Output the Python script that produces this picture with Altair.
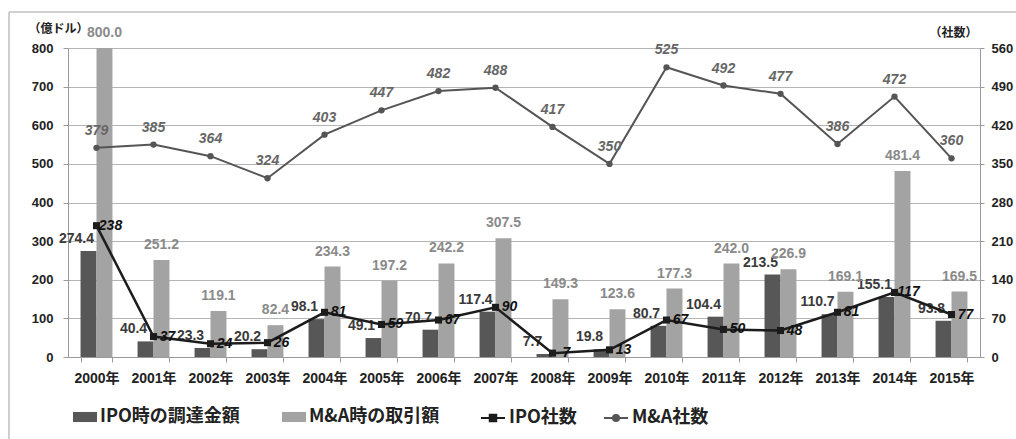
import altair as alt
import pandas as pd

# ---- data -------------------------------------------------------------
years = [f"{y}年" for y in range(2000, 2016)]
ipo_amount = [274.4, 40.4, 23.3, 20.2, 98.1, 49.1, 70.7, 117.4,
              7.7, 19.8, 80.7, 104.4, 213.5, 110.7, 155.1, 93.8]
ma_amount = [800.0, 251.2, 119.1, 82.4, 234.3, 197.2, 242.2, 307.5,
             149.3, 123.6, 177.3, 242.0, 226.9, 169.1, 481.4, 169.5]
ipo_count = [238, 37, 24, 26, 81, 59, 67, 90, 7, 13, 67, 50, 48, 81, 117, 77]
ma_count = [379, 385, 364, 324, 403, 447, 482, 488,
            417, 350, 525, 492, 477, 386, 472, 360]

bar_series = ["IPO時の調達金額", "M&A時の取引額"]
bar_colors = ["#575757", "#a3a3a3"]
line_series = ["IPO社数", "M&A社数"]
line_colors = ["#1c1c1c", "#555555"]

bars_df = pd.DataFrame({
    "year": years * 2,
    "series": [bar_series[0]] * len(years) + [bar_series[1]] * len(years),
    "amount": ipo_amount + ma_amount,
})
counts_df = pd.DataFrame({"year": years, "ipo_n": ipo_count, "ma_n": ma_count})
line_keys = pd.DataFrame({"count_series": line_series})

# ---- styling ----------------------------------------------------------
NUM_FONT = "Liberation Sans, Noto Sans CJK JP"
JP_FONT = "Noto Sans CJK JP"
AXIS_GREY = "#9a9a9a"

x_enc = alt.X(
    "year:N", sort=years,
    scale=alt.Scale(paddingInner=0.44, paddingOuter=0.22),
    axis=alt.Axis(title=None, labelAngle=0, tickBand="extent", tickSize=5,
                  tickColor=AXIS_GREY, domainColor=AXIS_GREY,
                  labelFont=NUM_FONT, labelFontSize=14, labelFontWeight="bold",
                  labelColor="#222222", labelPadding=9, grid=False),
)
x_off = alt.XOffset("series:N",
                    scale=alt.Scale(domain=bar_series, paddingInner=0, paddingOuter=0))

left_axis = alt.Axis(
    values=list(range(0, 801, 100)), tickCount=9, labelOverlap=False,
    title="（億ドル）", titleAngle=0,
    titleX=-10, titleY=-20, titleAlign="center", titleBaseline="middle",
    titleFont=JP_FONT, titleFontSize=12, titleFontWeight="bold", titleColor="#222222",
    labelFont=NUM_FONT, labelFontSize=13, labelFontWeight="bold", labelColor="#222222",
    labelPadding=10, tickSize=5, tickColor=AXIS_GREY, domainColor=AXIS_GREY,
    grid=True, gridColor="#b5b5b5", gridWidth=1,
)
right_axis = alt.Axis(
    values=list(range(0, 561, 70)), tickCount=9, labelOverlap=False,
    title="（社数）", titleAngle=0,
    titleX=-27, titleY=-16, titleAlign="center", titleBaseline="middle",
    titleFont=JP_FONT, titleFontSize=12, titleFontWeight="bold", titleColor="#222222",
    labelFont=NUM_FONT, labelFontSize=13, labelFontWeight="bold", labelColor="#222222",
    labelPadding=7, tickSize=4, tickColor=AXIS_GREY, domainColor=AXIS_GREY,
    grid=False,
)

legend_common = dict(
    orient="none", direction="horizontal", title=None, columns=2,
    labelFont=JP_FONT, labelFontSize=18, labelFontWeight="bold",
    labelColor="#222222", symbolSize=576, labelOffset=3, legendY=357,
)
bar_legend = alt.Legend(legendX=5, columnPadding=42,
                        symbolType="M-1,-0.42H1V0.42H-1Z", symbolStrokeWidth=0,
                        symbolOpacity=1, **legend_common)
line_legend = alt.Legend(legendX=412, columnPadding=23,
                         symbolStrokeWidth=2, symbolOpacity=1, **legend_common)
line_symbols = [
    "M-1,0H1M-0.27,-0.27H0.27V0.27H-0.27Z",
    "M-1,0H1M-0.25,0A0.25,0.25,0,1,1,0.25,0A0.25,0.25,0,1,1,-0.25,0Z",
]

# ---- left axis: amounts (bars) -----------------------------------------
y_amt = alt.Y("amount:Q", scale=alt.Scale(domain=[0, 800]), axis=left_axis)

bars = alt.Chart(bars_df).mark_bar().encode(
    x=x_enc, xOffset=x_off, y=y_amt,
    color=alt.Color("series:N", scale=alt.Scale(domain=bar_series, range=bar_colors),
                    legend=bar_legend),
)
ipo_amt_text = alt.Chart(bars_df).transform_filter(
    alt.datum.series == bar_series[0]
).mark_text(dx=-12, dy=-12, baseline="middle", align="center",
            font=NUM_FONT, fontSize=14, fontWeight="bold", color="#3a3a3a").encode(
    x=x_enc, xOffset=x_off, y=y_amt,
    text=alt.Text("amount:Q", format=".1f"),
)
ma_amt_text = alt.Chart(bars_df).transform_filter(
    alt.datum.series == bar_series[1]
).mark_text(dy=-15, baseline="middle", align="center",
            font=NUM_FONT, fontSize=14, fontWeight="bold", color="#8a8a8a").encode(
    x=x_enc, xOffset=x_off, y=y_amt,
    text=alt.Text("amount:Q", format=".1f"),
)
left = alt.layer(bars, ipo_amt_text, ma_amt_text)

# ---- right axis: company counts (lines) --------------------------------
y_scale_n = alt.Scale(domain=[0, 560])
y_ma = alt.Y("ma_n:Q", scale=y_scale_n, axis=right_axis)
y_ipo = alt.Y("ipo_n:Q", scale=y_scale_n, axis=right_axis)
base_n = alt.Chart(counts_df)

ma_line = base_n.mark_line(color=line_colors[1], strokeWidth=2).encode(x=x_enc, y=y_ma)
ma_pts = base_n.mark_point(shape="circle", filled=True, size=40, opacity=1,
                           color=line_colors[1]).encode(x=x_enc, y=y_ma)
ma_text = base_n.mark_text(dy=-17, baseline="middle", align="center",
                           font=NUM_FONT, fontSize=14, fontWeight="bold",
                           fontStyle="italic", color="#666666").encode(
    x=x_enc, y=y_ma, text="ma_n:Q")

ipo_line = base_n.mark_line(color=line_colors[0], strokeWidth=2.5).encode(x=x_enc, y=y_ipo)
ipo_pts = base_n.mark_point(shape="square", filled=True, size=50, opacity=1,
                            color=line_colors[0]).encode(x=x_enc, y=y_ipo)
ipo_text = base_n.mark_text(dx=14, dy=0, baseline="middle", align="center",
                            font=NUM_FONT, fontSize=14, fontWeight="bold",
                            fontStyle="italic", color="#111111").encode(
    x=x_enc, y=y_ipo, text="ipo_n:Q")

right = alt.layer(ma_line, ma_pts, ma_text, ipo_line, ipo_pts, ipo_text)

# invisible layer that only supplies the legend for the two count lines
line_key = alt.Chart(line_keys).mark_point(opacity=0).encode(
    x=alt.value(0), y=alt.value(0),
    shape=alt.Shape("count_series:N",
                    scale=alt.Scale(domain=line_series, range=line_symbols),
                    legend=line_legend),
    fill=alt.Fill("count_series:N",
                  scale=alt.Scale(domain=line_series, range=line_colors),
                  legend=line_legend),
    stroke=alt.Stroke("count_series:N",
                      scale=alt.Scale(domain=line_series, range=line_colors),
                      legend=line_legend),
)

# ---- outer frame (top and left edges) -----------------------------------
frame_top = alt.Chart().mark_rule(color="#cfcfcf", strokeWidth=2).encode(
    x=alt.value(-59), x2=alt.value(948), y=alt.value(-36))
frame_left = alt.Chart().mark_rule(color="#cfcfcf", strokeWidth=2).encode(
    x=alt.value(-59), y=alt.value(-36), y2=alt.value(391))

chart = alt.layer(frame_top, frame_left, line_key, left, right).resolve_scale(
    y="independent"
).properties(
    width=912, height=309,
    autosize=alt.AutoSizeParams(type="none"),
    padding={"left": 68, "top": 48, "right": 36, "bottom": 82},
    background="white",
).configure_view(stroke=None)

chart.save("out.html", embed_options={"renderer": "svg", "actions": False})
